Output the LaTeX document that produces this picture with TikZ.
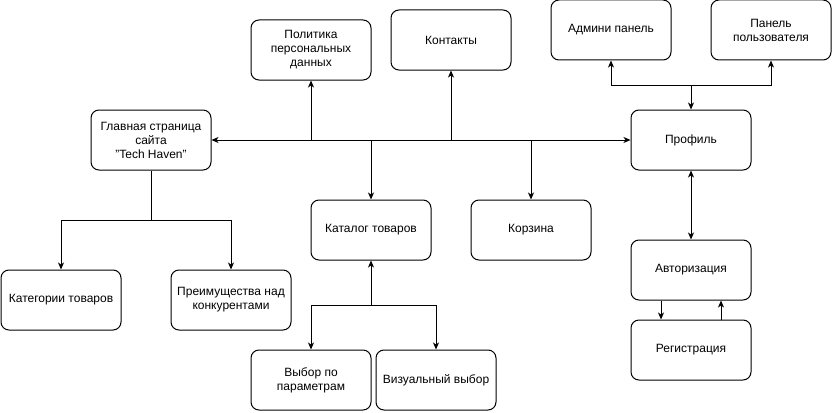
\documentclass[tikz,border=0pt]{standalone}
\usepackage{fontspec}
\setmainfont{Liberation Sans}
\usetikzlibrary{arrows.meta}
\begin{document}
\begin{tikzpicture}[x=1pt,y=-1pt,
  box/.style={draw, line width=1pt, rounded corners=8pt, minimum width=120pt, minimum height=60pt,
    align=center, inner sep=2pt, font=\fontsize{12}{14}\selectfont},
  conn/.style={line width=1pt, -{Stealth[length=7pt,width=6pt,inset=2pt]}},
  biconn/.style={line width=1pt, {Stealth[length=7pt,width=6pt,inset=2pt]}-{Stealth[length=7pt,width=6pt,inset=2pt]}},
  plain/.style={line width=1pt}]
\useasboundingbox (0,0) rectangle (832,412);
\node[box] (main) at (151,140) {Главная страница\\сайта\\"Tech Haven"};
\node[box] (pol) at (311,50) {Политика\\персональных\\данных};
\node[box] (cont) at (451,40) {Контакты};
\node[box] (admin) at (611,30) {Админи панель};
\node[box] (panel) at (771,30) {Панель\\пользователя};
\node[box] (prof) at (691,140) {Профиль};
\node[box] (cat) at (371,230) {Каталог товаров};
\node[box] (cart) at (531,230) {Корзина};
\node[box] (kat) at (61,300) {Категории товаров};
\node[box] (adv) at (231,300) {Преимущества над\\конкурентами};
\node[box] (auth) at (691,270) {Авторизация};
\node[box] (reg) at (691,350) {Регистрация};
\node[box] (vp) at (311,380) {Выбор по\\параметрам};
\node[box] (vv) at (436,380) {Визуальный выбор};
\coordinate (pj) at (691,85);
\coordinate (mj) at (151,220);
\coordinate (cj) at (371,305);
% main horizontal bus
\draw[biconn] (main.east) -- (prof.west);
\draw[conn] (pol.south |- main.east) -- (pol.south);
\draw[conn] (cont.south |- main.east) -- (cont.south);
\draw[conn] (cat.north |- main.east) -- (cat.north);
\draw[conn] (cart.north |- main.east) -- (cart.north);
% profile
\draw[biconn] (admin.south) -- (admin.south |- pj) -- (panel.south |- pj) -- (panel.south);
\draw[conn] (pj) -- (prof.north);
\draw[biconn] (prof.south) -- (auth.north);
\draw[conn] ([xshift=-30pt]auth.south) -- ([xshift=-30pt]reg.north);
\draw[conn] ([xshift=30pt]reg.north) -- ([xshift=30pt]auth.south);
% main bottom
\draw[plain] (main.south) -- (mj);
\draw[conn] (mj) -| (kat.north);
\draw[conn] (mj) -| (adv.north);
% catalog
\draw[conn] (cj) -- (cat.south);
\draw[conn] (cj) -| (vp.north);
\draw[conn] (cj) -| (vv.north);
\end{tikzpicture}
\end{document}
